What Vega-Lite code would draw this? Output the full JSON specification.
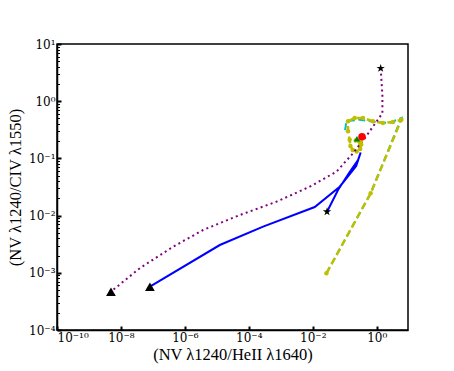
{
  "$schema": "https://vega.github.io/schema/vega-lite/v6.json",
  "width": 351,
  "height": 286,
  "autosize": {"type": "none"},
  "padding": {"left": 57, "top": 44, "right": 46, "bottom": 41},
  "background": "white",
  "config": {
    "view": {"stroke": "black", "strokeWidth": 1.5},
    "axis": {
      "grid": false,
      "domainColor": "black",
      "domainWidth": 1.5,
      "tickColor": "black",
      "labelFont": "DejaVu Serif",
      "labelFontSize": 12,
      "labelColor": "black",
      "titleFont": "Liberation Serif",
      "titleFontSize": 16.5,
      "titleFontWeight": "normal",
      "titleColor": "black"
    }
  },
  "datasets": {
    "lines": [
      {"s": "A", "i": 0, "x": 1.334, "y": 3.76},
      {"s": "A", "i": 1, "x": 1.51, "y": 1.28},
      {"s": "A", "i": 2, "x": 1.51, "y": 0.615},
      {"s": "A", "i": 3, "x": 0.98, "y": 0.438},
      {"s": "A", "i": 4, "x": 0.453, "y": 0.2366},
      {"s": "A", "i": 5, "x": 0.1816, "y": 0.1228},
      {"s": "A", "i": 6, "x": 0.0551, "y": 0.0585},
      {"s": "A", "i": 7, "x": 0.00806, "y": 0.032},
      {"s": "A", "i": 8, "x": 0.000734, "y": 0.0175},
      {"s": "A", "i": 9, "x": 0.0000524, "y": 0.01023},
      {"s": "A", "i": 10, "x": 0.00000373, "y": 0.0056},
      {"s": "A", "i": 11, "x": 0.000000431, "y": 0.00286},
      {"s": "A", "i": 12, "x": 0.0000000393, "y": 0.00121},
      {"s": "A", "i": 13, "x": 0.00000000487, "y": 0.000468},
      {"s": "B", "i": 0, "x": 0.028, "y": 0.01169},
      {"s": "B", "i": 1, "x": 0.0618, "y": 0.02805},
      {"s": "B", "i": 2, "x": 0.143, "y": 0.0578},
      {"s": "B", "i": 3, "x": 0.2606, "y": 0.0937},
      {"s": "B", "i": 4, "x": 0.316, "y": 0.1268},
      {"s": "B", "i": 5, "x": 0.2287, "y": 0.0736},
      {"s": "B", "i": 6, "x": 0.0698, "y": 0.032},
      {"s": "B", "i": 7, "x": 0.01155, "y": 0.01412},
      {"s": "B", "i": 8, "x": 0.00028, "y": 0.0064},
      {"s": "B", "i": 9, "x": 0.0000124, "y": 0.00306},
      {"s": "B", "i": 10, "x": 0.0000000806, "y": 0.000571},
      {"s": "C", "i": 0, "x": 0.0268, "y": 0.00098},
      {"s": "C", "i": 1, "x": 0.649, "y": 0.0245},
      {"s": "C", "i": 2, "x": 5.92, "y": 0.508},
      {"s": "C", "i": 3, "x": 2.55, "y": 0.416},
      {"s": "C", "i": 4, "x": 0.98, "y": 0.433},
      {"s": "C", "i": 5, "x": 0.294, "y": 0.475},
      {"s": "C", "i": 6, "x": 0.113, "y": 0.446},
      {"s": "C", "i": 7, "x": 0.1, "y": 0.278},
      {"s": "D", "i": 0, "x": 0.0268, "y": 0.00098},
      {"s": "D", "i": 1, "x": 0.649, "y": 0.0245},
      {"s": "D", "i": 2, "x": 5.92, "y": 0.475},
      {"s": "D", "i": 3, "x": 3.23, "y": 0.433},
      {"s": "D", "i": 4, "x": 1.57, "y": 0.416},
      {"s": "D", "i": 5, "x": 0.766, "y": 0.446},
      {"s": "D", "i": 6, "x": 0.373, "y": 0.508},
      {"s": "D", "i": 7, "x": 0.205, "y": 0.508},
      {"s": "D", "i": 8, "x": 0.127, "y": 0.446},
      {"s": "D", "i": 9, "x": 0.127, "y": 0.298},
      {"s": "D", "i": 10, "x": 0.143, "y": 0.212},
      {"s": "D", "i": 11, "x": 0.151, "y": 0.165},
      {"s": "D", "i": 12, "x": 0.178, "y": 0.14},
      {"s": "D", "i": 13, "x": 0.237, "y": 0.132},
      {"s": "D", "i": 14, "x": 0.305, "y": 0.146},
      {"s": "D", "i": 15, "x": 0.328, "y": 0.175},
      {"s": "D", "i": 16, "x": 0.274, "y": 0.201},
      {"s": "D", "i": 17, "x": 0.221, "y": 0.206}
    ],
    "marks": [
      {"kind": "sq", "x": 0.31, "y": 0.188},
      {"kind": "tri", "x": 0.242, "y": 0.221},
      {"kind": "dot", "x": 0.348, "y": 0.239},
      {"kind": "start", "x": 1.334, "y": 3.76},
      {"kind": "start", "x": 0.028, "y": 0.01169},
      {"kind": "end", "x": 0.00000000487, "y": 0.000468},
      {"kind": "end", "x": 0.0000000806, "y": 0.000571}
    ]
  },
  "encoding": {
    "x": {
      "field": "x",
      "type": "quantitative",
      "scale": {"type": "log", "domain": [1e-10, 9.55], "nice": false},
      "axis": {
        "title": "(NV λ1240/HeII λ1640)",
        "values": [1e-10, 1e-8, 1e-6, 1e-4, 0.01, 1],
        "tickSize": -4,
        "tickWidth": 2,
        "labelPadding": 6,
        "titlePadding": 3,
        "labelExpr": "'10' + (round(log(datum.value)/LN10) < 0 ? '⁻' : '') + (abs(round(log(datum.value)/LN10)) >= 10 ? '¹' : '') + substring('⁰¹²³⁴⁵⁶⁷⁸⁹', abs(round(log(datum.value)/LN10)) % 10, abs(round(log(datum.value)/LN10)) % 10 + 1)"
      }
    },
    "y": {
      "field": "y",
      "type": "quantitative",
      "scale": {"type": "log", "domain": [0.0001, 10], "nice": false},
      "axis": {
        "title": "(NV λ1240/CIV λ1550)",
        "values": [0.0001, 0.0002, 0.0003, 0.0004, 0.0005, 0.0006, 0.0007, 0.0008, 0.0009, 0.001, 0.002, 0.003, 0.004, 0.005, 0.006, 0.007, 0.008, 0.009, 0.01, 0.02, 0.03, 0.04, 0.05, 0.06, 0.07, 0.08, 0.09, 0.1, 0.2, 0.3, 0.4, 0.5, 0.6, 0.7, 0.8, 0.9, 1, 2, 3, 4, 5, 6, 7, 8, 9, 10],
        "tickSize": {"condition": {"test": "abs(log(datum.value)/LN10 - round(log(datum.value)/LN10)) < 0.001", "value": -4}, "value": -2.5},
        "tickWidth": {"condition": {"test": "abs(log(datum.value)/LN10 - round(log(datum.value)/LN10)) < 0.001", "value": 2}, "value": 1},
        "labelPadding": 6,
        "titlePadding": 5,
        "labelExpr": "abs(log(datum.value)/LN10 - round(log(datum.value)/LN10)) > 0.001 ? '' : '10' + (round(log(datum.value)/LN10) < 0 ? '⁻' : '') + (abs(round(log(datum.value)/LN10)) >= 10 ? '¹' : '') + substring('⁰¹²³⁴⁵⁶⁷⁸⁹', abs(round(log(datum.value)/LN10)) % 10, abs(round(log(datum.value)/LN10)) % 10 + 1)"
      }
    }
  },
  "layer": [
    {
      "data": {"name": "lines"},
      "transform": [{"filter": "datum.s === 'C'"}],
      "mark": {"type": "line", "color": "#00bfbf", "strokeWidth": 2, "strokeDash": [7, 3.5], "clip": true},
      "encoding": {"order": {"field": "i", "type": "quantitative"}}
    },
    {
      "data": {"name": "lines"},
      "transform": [{"filter": "datum.s === 'D'"}],
      "mark": {"type": "line", "color": "#bfbf00", "strokeWidth": 2.5, "strokeDash": [7, 3.5], "point": {"filled": true, "size": 20, "color": "#bfbf00"}, "clip": true},
      "encoding": {"order": {"field": "i", "type": "quantitative"}}
    },
    {
      "data": {"name": "lines"},
      "transform": [{"filter": "datum.s === 'B'"}],
      "mark": {"type": "line", "color": "#0000ff", "strokeWidth": 2, "clip": true},
      "encoding": {"order": {"field": "i", "type": "quantitative"}}
    },
    {
      "data": {"name": "lines"},
      "transform": [{"filter": "datum.s === 'A'"}],
      "mark": {"type": "line", "color": "#800080", "strokeWidth": 2, "strokeDash": [2, 3.3], "clip": true},
      "encoding": {"order": {"field": "i", "type": "quantitative"}}
    },
    {
      "data": {"name": "marks"},
      "mark": {"type": "point", "filled": true, "opacity": 1, "strokeWidth": 0},
      "encoding": {
        "shape": {
          "field": "kind",
          "type": "nominal",
          "scale": {
            "domain": ["sq", "tri", "dot", "start", "end"],
            "range": ["square", "triangle-up", "circle", "M0,-1L0.2245,-0.309L0.951,-0.309L0.363,0.118L0.588,0.809L0,0.382L-0.588,0.809L-0.363,0.118L-0.951,-0.309L-0.2245,-0.309Z", "triangle-up"]
          },
          "legend": null
        },
        "color": {
          "field": "kind",
          "type": "nominal",
          "scale": {
            "domain": ["sq", "tri", "dot", "start", "end"],
            "range": ["#bfbf00", "#008000", "#ff0000", "#000000", "#000000"]
          },
          "legend": null
        },
        "size": {
          "field": "kind",
          "type": "nominal",
          "scale": {
            "domain": ["sq", "tri", "dot", "start", "end"],
            "range": [22, 95, 100, 45, 40]
          },
          "legend": null
        }
      }
    }
  ]
}
